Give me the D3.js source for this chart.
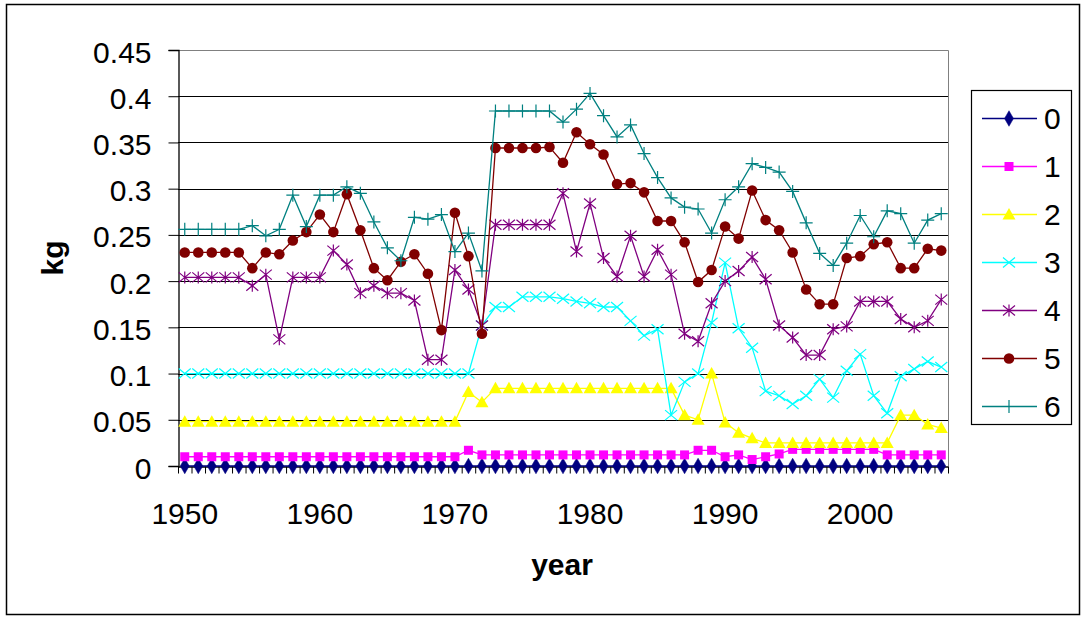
<!DOCTYPE html>
<html>
<head>
<meta charset="utf-8">
<script src="https://cdn.jsdelivr.net/npm/d3@7"></script>
<style>
  body { margin: 0; background: #fff; }
  text { font-family: "Liberation Sans", Arial, sans-serif; fill: #000; }
</style>
</head>
<body>
<div class="vis-area"></div>
<script>
var width = 1081;
var height = 618;

// categories and series values
var years = d3.range(1950, 2007);
var yTicks = [0, 0.05, 0.1, 0.15, 0.2, 0.25, 0.3, 0.35, 0.4, 0.45];
var xLabels = [1950, 1960, 1970, 1980, 1990, 2000];
var seriesNames = ["0", "1", "2", "3", "4", "5", "6"];

var s0 = [0,0,0,0,0,0,0,0,0,0, 0,0,0,0,0,0,0,0,0,0, 0,0,0,0,0,0,0,0,0,0,
  0,0,0,0,0,0,0,0,0,0, 0,0,0,0,0,0,0,0,0,0, 0,0,0,0,0,0,0];
var s1 = [0.010,0.010,0.010,0.010,0.010,0.010,0.010,0.010,0.010,0.010,
  0.010,0.010,0.010,0.010,0.010,0.010,0.010,0.010,0.010,0.010,0.010,
  0.017,
  0.012,0.012,0.012,0.012,0.012,0.012,0.012,0.012,0.012,0.012,0.012,0.012,0.012,0.012,0.012,0.012,
  0.017,0.017,
  0.010,0.012,0.007,0.010,0.013,
  0.018,0.018,0.018,0.018,0.018,0.018,0.018,
  0.012,0.012,0.012,0.012,0.012];
var s2 = [0.048,0.048,0.048,0.048,0.048,0.048,0.048,0.048,0.048,0.048,
  0.048,0.048,0.048,0.048,0.048,0.048,0.048,0.048,0.048,0.048,0.048,
  0.080,0.069,
  0.084,0.084,0.084,0.084,0.084,0.084,0.084,0.084,0.084,0.084,0.084,0.084,0.084,0.084,
  0.055,0.050,0.100,
  0.047,0.036,0.030,0.025,
  0.025,0.025,0.025,0.025,0.025,0.025,0.025,0.025,0.025,
  0.055,0.055,0.045,0.041];
var s3 = [0.100,0.100,0.100,0.100,0.100,0.100,0.100,0.100,0.100,0.100,0.100,
  0.100,0.100,0.100,0.100,0.100,0.100,0.100,0.100,0.100,0.100,0.100,
  0.152,0.172,0.172,0.183,0.183,0.183,0.181,0.178,0.176,0.172,0.172,0.157,
  0.141,0.148,0.055,0.091,0.100,0.155,
  0.220,0.149,0.128,0.081,0.076,0.067,0.076,0.094,0.074,0.103,0.121,0.076,
  0.057,0.097,0.105,0.113,0.107];
var s4 = [0.204,0.204,0.204,0.204,0.204,0.195,0.207,0.137,0.204,0.204,0.204,
  0.233,0.218,0.187,0.195,0.187,0.187,0.179,0.115,0.115,0.212,0.191,0.152,
  0.261,0.261,0.261,0.261,0.261,0.295,0.232,0.284,0.225,0.205,0.249,0.205,
  0.234,0.207,0.143,0.135,0.176,
  0.200,0.211,0.226,0.202,0.152,0.139,0.120,0.120,0.148,0.151,0.178,0.178,
  0.178,0.159,0.150,0.157,0.180];
var s5 = [0.231,0.231,0.231,0.231,0.231,0.214,0.231,0.229,0.244,0.253,0.272,
  0.253,0.294,0.255,0.214,0.201,0.221,0.229,0.208,0.147,0.274,0.227,0.143,
  0.344,0.344,0.344,0.344,0.345,0.328,0.361,0.348,0.337,0.305,0.306,0.296,
  0.265,0.265,0.242,0.199,0.212,
  0.259,0.246,0.298,0.266,0.255,0.231,0.191,0.175,0.175,0.225,0.227,0.240,
  0.242,0.214,0.214,0.235,0.233];
var s6 = [0.256,0.256,0.256,0.256,0.256,0.260,0.249,0.256,0.293,0.259,0.293,
  0.293,0.302,0.295,0.264,0.236,0.222,0.269,0.267,0.272,0.232,0.252,0.211,
  0.384,0.384,0.384,0.384,0.384,0.372,0.386,0.403,0.379,0.356,0.369,0.338,
  0.312,0.290,0.280,0.278,0.252,
  0.288,0.302,0.327,0.323,0.318,0.297,0.263,0.230,0.217,0.241,0.271,0.248,
  0.276,0.273,0.241,0.266,0.273];

var seriesValues = [s0, s1, s2, s3, s4, s5, s6];
var colors = ["#000080", "#ff00ff", "#ffff00", "#00ffff", "#800080", "#800000", "#008080"];
var markers = ["diamond", "square", "triangle", "cross", "star", "circle", "plus"];

var plot = {left: 178, right: 948, top: 50, bottom: 466};

var svg = d3.select('.vis-area')
  .append('svg')
  .attr('width', width)
  .attr('height', height);

// outer chart border
svg.append('rect')
  .attr('x', 6.5).attr('y', 4.5)
  .attr('width', 1073).attr('height', 610)
  .attr('fill', '#fff')
  .attr('stroke', '#000')
  .attr('stroke-width', 1.5);

var x = d3.scaleBand()
  .domain(years)
  .range([plot.left, plot.right]);

var y = d3.scaleLinear()
  .domain([0, 0.45])
  .range([plot.bottom, plot.top]);

function cx(d, i) { return x(years[i]) + x.bandwidth() / 2; }

// gridlines
svg.append('g')
  .selectAll('line')
  .data(yTicks.filter(t => t > 0 && t < 0.45))
  .enter()
  .append('line')
  .attr('x1', plot.left).attr('x2', plot.right)
  .attr('y1', d => Math.round(y(d)) + 0.5).attr('y2', d => Math.round(y(d)) + 0.5)
  .attr('stroke', '#000')
  .attr('stroke-width', 1);

// plot area border (top and right in grey)
svg.append('path')
  .attr('d', `M${plot.left},${plot.top + 0.5}H${plot.right + 0.5}V${plot.bottom}`)
  .attr('fill', 'none')
  .attr('stroke', '#808080')
  .attr('stroke-width', 1);

// y axis
var yAxis = d3.axisLeft(y)
  .tickValues(yTicks)
  .tickSize(10)
  .tickPadding(17)
  .tickFormat(d => String(+d.toFixed(2)));

var gy = svg.append('g')
  .attr('transform', `translate(${plot.left + 0.5},0)`)
  .call(yAxis);
gy.select('.domain').attr('stroke', '#000').attr('stroke-width', 1.3);
gy.selectAll('.tick line').attr('stroke', '#000');
gy.selectAll('.tick text')
  .attr('font-size', 30)
  .attr('dy', '0.4em')
  .style('font-family', '"Liberation Sans", Arial, sans-serif');

// x axis: a tick at every category boundary, labels every ten years
var xAxis = d3.axisBottom(x)
  .tickValues([])
  .tickSizeOuter(0);

var gx = svg.append('g')
  .attr('transform', `translate(0,${plot.bottom + 0.5})`)
  .call(xAxis);
gx.select('.domain').attr('stroke', '#000').attr('stroke-width', 1.3);

gx.selectAll('.cat-tick')
  .data(years.concat([years[years.length - 1] + 1]))
  .enter()
  .append('line')
  .attr('class', 'cat-tick')
  .attr('x1', (d, i) => plot.left + i * x.step() + 0.5)
  .attr('x2', (d, i) => plot.left + i * x.step() + 0.5)
  .attr('y1', 0).attr('y2', 7)
  .attr('stroke', '#000')
  .attr('stroke-width', 1);

gx.selectAll('.cat-label')
  .data(xLabels)
  .enter()
  .append('text')
  .attr('class', 'cat-label')
  .attr('x', d => x(d) + x.bandwidth() / 2)
  .attr('y', 57)
  .attr('text-anchor', 'middle')
  .attr('font-size', 30)
  .text(d => d);

// axis titles
svg.append('text')
  .attr('x', 562).attr('y', 575)
  .attr('text-anchor', 'middle')
  .attr('font-size', 30)
  .attr('font-weight', 'bold')
  .text('year');

svg.append('text')
  .attr('transform', 'translate(63,258) rotate(-90)')
  .attr('text-anchor', 'middle')
  .attr('font-size', 30)
  .attr('font-weight', 'bold')
  .text('kg');

// marker drawing
function drawMarker(sel, type, color) {
  if (type === 'diamond') {
    sel.append('path').attr('d', d3.symbol().type(d3.symbolDiamond).size(70))
      .attr('fill', color).attr('stroke', color).attr('stroke-width', 0.5);
  } else if (type === 'square') {
    sel.append('rect').attr('x', -4.5).attr('y', -4.5).attr('width', 9).attr('height', 9)
      .attr('fill', color);
  } else if (type === 'triangle') {
    sel.append('path').attr('d', 'M0,-6.5L6.5,5L-6.5,5Z').attr('fill', color);
  } else if (type === 'circle') {
    sel.append('circle').attr('r', 5.3).attr('fill', color);
  } else if (type === 'cross') {
    sel.append('path').attr('d', 'M-6,-5L6,5M-6,5L6,-5')
      .attr('stroke', color).attr('stroke-width', 1.2).attr('fill', 'none');
  } else if (type === 'star') {
    sel.append('path').attr('d', 'M-6,-5L6,5M-6,5L6,-5M0,-6V6')
      .attr('stroke', color).attr('stroke-width', 1.2).attr('fill', 'none');
  } else if (type === 'plus') {
    sel.append('path').attr('d', 'M-6.5,0H6.5M0,-6.5V6.5')
      .attr('stroke', color).attr('stroke-width', 1.2).attr('fill', 'none');
  }
}

var line = d3.line()
  .x(cx)
  .y(d => y(d));

var seriesG = svg.append('g').attr('class', 'series');

seriesValues.forEach(function (vals, k) {
  var g = seriesG.append('g');
  g.append('path')
    .datum(vals)
    .attr('d', line)
    .attr('fill', 'none')
    .attr('stroke', colors[k])
    .attr('stroke-width', 1.3);

  g.selectAll('.m')
    .data(vals)
    .enter()
    .append('g')
    .attr('class', 'm')
    .attr('transform', (d, i) => `translate(${cx(d, i)},${y(d)})`)
    .each(function () { drawMarker(d3.select(this), markers[k], colors[k]); });
});

// legend
var legend = svg.append('g');
legend.append('rect')
  .attr('x', 971.5).attr('y', 90.5)
  .attr('width', 100).attr('height', 334)
  .attr('fill', '#fff')
  .attr('stroke', '#000')
  .attr('stroke-width', 1.2);

var legendY = d3.scalePoint()
  .domain(seriesNames)
  .range([118, 406]);

var items = legend.selectAll('.item')
  .data(seriesNames)
  .enter()
  .append('g')
  .attr('class', 'item')
  .attr('transform', d => `translate(0,${legendY(d)})`);

items.append('line')
  .attr('x1', 982).attr('x2', 1037)
  .attr('y1', 0.5).attr('y2', 0.5)
  .attr('stroke', (d, i) => colors[i])
  .attr('stroke-width', 1.3);

items.append('g')
  .attr('transform', 'translate(1009,0.5)')
  .each(function (d, i) { drawMarker(d3.select(this), markers[i], colors[i]); });

items.append('text')
  .attr('x', 1044)
  .attr('y', 0)
  .attr('dy', '0.36em')
  .attr('font-size', 30)
  .text(d => d);
</script>
</body>
</html>
